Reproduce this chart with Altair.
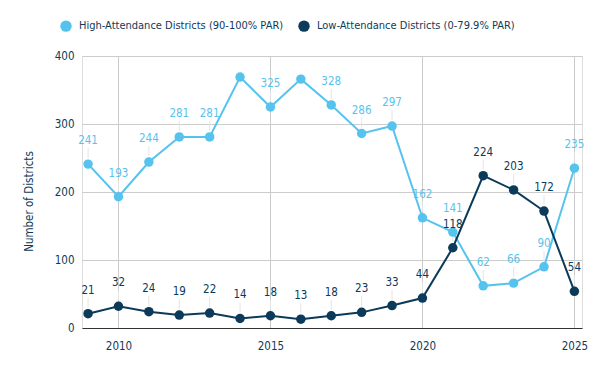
import altair as alt
import pandas as pd

years = list(range(2009, 2026))
high_values = [241, 193, 244, 281, 281, 369, 325, 366, 328, 286, 297, 162, 141, 62, 66, 90, 235]
low_values = [21, 32, 24, 19, 22, 14, 18, 13, 18, 23, 33, 44, 118, 224, 203, 172, 54]
# labels that the reference shows (2014 and 2016 high values are unlabeled)
high_labels = ["241", "193", "244", "281", "281", "", "325", "", "328", "286", "297",
               "162", "141", "62", "66", "90", "235"]
low_labels = [str(v) for v in low_values]

series_names = ["High-Attendance Districts (90-100% PAR)", "Low-Attendance Districts (0-79.9% PAR)"]
colors = ["#56C3EF", "#0B3A5A"]
x_ticks = [2010, 2015, 2020, 2025]
y_ticks = [0, 100, 200, 300, 400]

rows = []
for y, v, l in zip(years, high_values, high_labels):
    rows.append({"year": y, "value": v, "series": series_names[0], "label": l})
for y, v, l in zip(years, low_values, low_labels):
    rows.append({"year": y, "value": v, "series": series_names[1], "label": l})
df = pd.DataFrame(rows)

FONT = "DejaVu Sans Condensed, Liberation Sans Narrow, Liberation Sans, sans-serif"
FS = 11.5
TXT = "#0F3A58"

x_enc = alt.X("year:Q", scale=alt.Scale(domain=[2008.8, 2025.25], nice=False, zero=False),
              axis=alt.Axis(values=x_ticks, format="d", title=None, grid=True, ticks=False,
                            domain=True, domainColor="#333333", labelPadding=12,
                            gridColor="#CCCCCC", labelColor=TXT, labelFontSize=FS, labelFont=FONT))
y_enc = alt.Y("value:Q", scale=alt.Scale(domain=[0, 400], nice=False),
              axis=alt.Axis(values=y_ticks, title="Number of Districts", grid=True, ticks=False,
                            domain=False, labelPadding=8, gridColor="#CCCCCC",
                            labelColor=TXT, labelFontSize=FS, labelFont=FONT,
                            titleColor=TXT, titleFontSize=FS, titleFont=FONT, titleFontWeight="normal",
                            titleX=-53, titleY=145, titleAngle=-90, titleBaseline="middle"))
color_enc = alt.Color("series:N", scale=alt.Scale(domain=series_names, range=colors),
                      legend=alt.Legend(title=None, orient="none", direction="horizontal",
                                        legendX=-22, legendY=-36, symbolType="circle",
                                        symbolSize=130, symbolStrokeWidth=0, labelFontSize=11,
                                        labelFont=FONT, labelColor=TXT, labelOffset=7,
                                        labelLimit=0, columnPadding=14))

base = alt.Chart(df)

leaders = base.transform_filter(alt.datum.label != "").mark_rule(
    color="#E4E4E4", strokeWidth=1, yOffset=-6, y2Offset=-16
).encode(x="year:Q", y="value:Q", y2="value:Q")

lines = base.mark_line(strokeWidth=2).encode(x=x_enc, y=y_enc, color=color_enc)
points = base.mark_circle(size=90, opacity=1).encode(x="year:Q", y="value:Q", color=alt.Color("series:N", legend=None))
labels = base.transform_filter(alt.datum.label != "").mark_text(
    dy=-23, baseline="middle", fontSize=FS, font=FONT
).encode(x="year:Q", y="value:Q", text="label:N", color=alt.Color("series:N", legend=None))

chart = alt.layer(leaders, lines, points, labels).properties(
    width=500, height=272,
    autosize=alt.AutoSizeParams(type="none"),
    padding={"left": 74, "top": 48, "right": 10, "bottom": 35},
).configure_view(stroke=None).configure(background="white")

chart.save("out.html", embed_options={"renderer": "svg", "actions": False})
